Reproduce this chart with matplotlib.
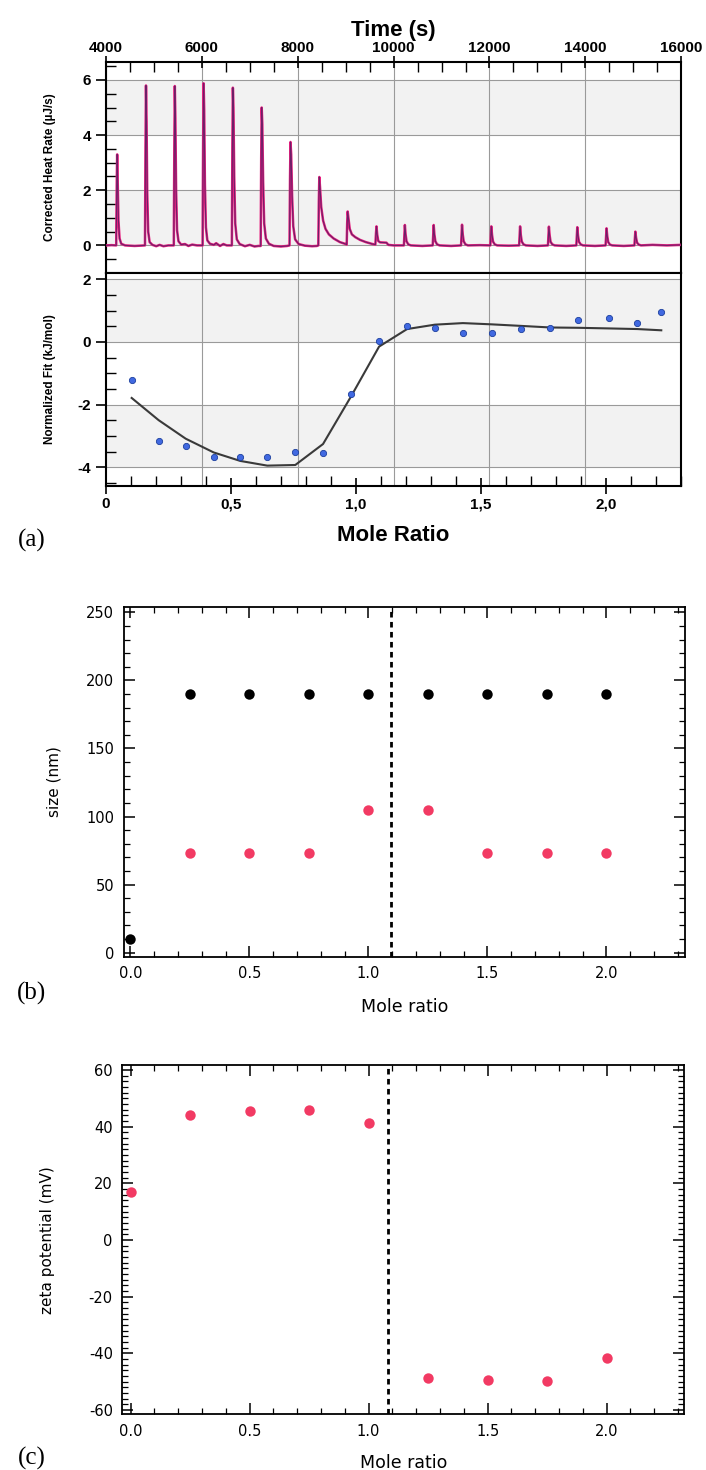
import matplotlib
matplotlib.use("Agg")
import matplotlib.pyplot as plt
import matplotlib.transforms as mtransforms
from matplotlib.ticker import MultipleLocator

plt.rcParams['axes.unicode_minus'] = False

# ---- (a) raw heat rate trace (time in s, heat rate in uJ/s) ----
heat_time = [
    4000, 4120, 4215, 4227, 4235, 4247, 4262, 4285, 4320, 4400, 4600, 4780,
    4815, 4826, 4836, 4848, 4862, 4882, 4912, 4970, 5050, 5120, 5200, 5300,
    5416, 5427, 5437, 5449, 5464, 5484, 5514, 5570, 5650, 5720, 5800, 5900,
    6017, 6028, 6038, 6050, 6065, 6086, 6116, 6170, 6250, 6300, 6380, 6450, 6520,
    6627, 6638, 6648, 6660, 6676, 6697, 6730, 6790, 6900, 7000, 7100, 7180,
    7228, 7239, 7249, 7262, 7279, 7301, 7336, 7400, 7500, 7650, 7780,
    7829, 7840, 7850, 7864, 7883, 7907, 7946, 8020, 8150, 8300, 8400,
    8430, 8441, 8451, 8466, 8490, 8530, 8580, 8650, 8750, 8880, 9000,
    9022, 9032, 9042, 9058, 9085, 9130, 9200, 9300, 9420, 9560, 9620,
    9633, 9643, 9658, 9680, 9720, 9850, 9890, 10000, 10100,
    10215, 10225, 10235, 10250, 10270, 10305, 10360, 10600,
    10816, 10826, 10836, 10851, 10871, 10906, 10960, 11200,
    11407, 11417, 11427, 11442, 11462, 11497, 11550, 11800,
    12018, 12028, 12038, 12053, 12073, 12108, 12160, 12400,
    12618, 12628, 12638, 12653, 12673, 12708, 12760, 13000,
    13219, 13229, 13239, 13254, 13274, 13309, 13360, 13600,
    13811, 13821, 13831, 13846, 13866, 13901, 13950, 14200,
    14421, 14431, 14441, 14456, 14476, 14511, 14560, 14800,
    15022, 15032, 15042, 15057, 15077, 15112, 15160, 15400, 15700, 16000,
]
heat_rate = [
    0.0, 0.01, 0.0, 2.4, 3.3, 2.3, 0.9, 0.25, 0.06, 0.0, -0.02, 0.0,
    0.0, 3.6, 5.8, 4.5, 1.9, 0.5, 0.12, 0.02, -0.03, 0.02, -0.03, 0.0,
    0.0, 3.5, 5.78, 4.6, 2.0, 0.55, 0.15, 0.03, 0.05, -0.02, 0.03, 0.0,
    0.0, 3.7, 5.88, 4.9, 2.2, 0.65, 0.18, 0.06, 0.02, 0.08, -0.02, 0.05, 0.0,
    0.0, 3.6, 5.72, 5.0, 2.5, 0.8, 0.22, 0.05, -0.03, 0.02, -0.04, -0.02,
    -0.02, 3.2, 5.0, 4.4, 2.3, 0.8, 0.25, 0.06, -0.02, -0.04, -0.02,
    0.0, 2.4, 3.75, 3.3, 1.8, 0.7, 0.22, 0.05, -0.01, -0.03, -0.02,
    0.0, 1.6, 2.48, 2.1, 1.4, 0.9, 0.6, 0.4, 0.25, 0.12, 0.05,
    0.03, 0.8, 1.23, 1.0, 0.6, 0.4, 0.3, 0.2, 0.12, 0.05, 0.03,
    0.45, 0.69, 0.4, 0.16, 0.11, 0.1, 0.02, 0.0, 0.0,
    0.0, 0.35, 0.74, 0.4, 0.15, 0.04, 0.0, -0.02,
    0.0, 0.35, 0.74, 0.4, 0.15, 0.04, 0.0, -0.02,
    0.0, 0.35, 0.75, 0.4, 0.15, 0.04, 0.0, 0.01,
    0.0, 0.33, 0.69, 0.38, 0.14, 0.04, 0.0, -0.01,
    0.0, 0.33, 0.69, 0.38, 0.14, 0.04, 0.0, -0.02,
    0.0, 0.32, 0.68, 0.37, 0.13, 0.04, 0.0, -0.02,
    0.0, 0.31, 0.66, 0.36, 0.13, 0.04, 0.0, -0.02,
    0.0, 0.30, 0.62, 0.34, 0.12, 0.03, 0.0, -0.02,
    0.0, 0.24, 0.50, 0.28, 0.10, 0.03, 0.0, 0.02, 0.0, 0.02,
]
time_ticks = [4000, 6000, 8000, 10000, 12000, 14000, 16000]
heat_yticks = [0, 2, 4, 6]

# ---- (a) integrated heats and fit ----
itc_ratio = [0.103, 0.211, 0.319, 0.431, 0.537, 0.645, 0.757, 0.868, 0.980, 1.092,
             1.204, 1.315, 1.427, 1.542, 1.661, 1.777, 1.888, 2.011, 2.124, 2.22]
itc_heat = [-1.23, -3.15, -3.33, -3.69, -3.69, -3.66, -3.51, -3.54, -1.66, 0.02,
            0.52, 0.44, 0.28, 0.28, 0.41, 0.44, 0.70, 0.77, 0.59, 0.94]
fit_heat = [-1.79, -2.50, -3.09, -3.53, -3.80, -3.95, -3.93, -3.26, -1.74, -0.15,
            0.41, 0.55, 0.60, 0.56, 0.51, 0.46, 0.45, 0.43, 0.41, 0.37]
fit_yticks = [-4, -2, 0, 2]
ratio_ticks_a = [0, 0.5, 1.0, 1.5, 2.0]
ratio_labels_a = ['0', '0,5', '1,0', '1,5', '2,0']

# ---- (b) particle size ----
size_ratio_black = [0.0, 0.25, 0.5, 0.75, 1.0, 1.25, 1.5, 1.75, 2.0]
size_black = [10, 190, 190, 190, 190, 190, 190, 190, 190]
size_ratio_pink = [0.25, 0.5, 0.75, 1.0, 1.25, 1.5, 1.75, 2.0]
size_pink = [73, 73, 73, 105, 105, 73, 73, 73]
eq_ratio_b = 1.095

# ---- (c) zeta potential ----
zeta_ratio = [0.0, 0.25, 0.5, 0.75, 1.0, 1.25, 1.5, 1.75, 2.0]
zeta_mv = [17.0, 44.3, 45.4, 45.9, 41.5, -48.6, -49.3, -49.6, -41.6]
eq_ratio_c = 1.08

ratio_ticks = [0.0, 0.5, 1.0, 1.5, 2.0]
ratio_labels = ['0.0', '0.5', '1.0', '1.5', '2.0']

PINK = '#f23a63'
BAND = '#f2f2f2'
GRID = '#9a9a9a'

fig = plt.figure(figsize=(7.06, 14.7), dpi=100)
ax_t = fig.add_axes([0.150, 0.8143, 0.815, 0.1435])
ax_f = fig.add_axes([0.150, 0.6694, 0.815, 0.1449])
ax_b = fig.add_axes([0.1756, 0.3492, 0.7946, 0.2379])
ax_c = fig.add_axes([0.1735, 0.0379, 0.7953, 0.2376])

bold_a = dict(family='Liberation Sans', weight='bold')

# --- top panel of (a)
for i in range(0, len(heat_yticks) - 1, 2):
    ax_t.axhspan(heat_yticks[i], heat_yticks[i + 1], color=BAND, zorder=0, lw=0)
ax_t.plot(heat_time, heat_rate, color='#e8207f', lw=1.8, zorder=3)
ax_t.plot(heat_time, heat_rate, color='#6e1f68', lw=0.8, zorder=4)
ax_t.set_xlim(4000, 16000)
ax_t.set_ylim(-1.0, 6.65)
ax_t.xaxis.tick_top()
ax_t.xaxis.set_label_position('top')
ax_t.set_xticks(time_ticks)
ax_t.xaxis.set_minor_locator(MultipleLocator(500))
ax_t.set_yticks(heat_yticks)
ax_t.yaxis.set_minor_locator(MultipleLocator(0.5))
ax_t.grid(True, which='major', color=GRID, lw=0.8, zorder=1)
ax_t.set_axisbelow(True)
ax_t.tick_params(axis='x', which='major', direction='inout', length=8, width=1.2, pad=1)
ax_t.tick_params(axis='x', which='minor', direction='in', length=7, width=1.0)
ax_t.tick_params(axis='y', which='major', direction='out', length=7, width=1.2)
ax_t.tick_params(axis='y', which='minor', direction='in', length=7, width=1.0)
ax_t.set_xlabel('Time (s)', fontsize=16, labelpad=4, **bold_a)
ax_t.set_ylabel('Corrected Heat Rate (µJ/s)', fontsize=8.5, **bold_a)
ax_t.yaxis.set_label_coords(-0.087, 0.5)

# --- bottom panel of (a)
for i in range(0, len(fit_yticks) - 1, 2):
    ax_f.axhspan(fit_yticks[i], fit_yticks[i + 1], color=BAND, zorder=0, lw=0)
trans = mtransforms.blended_transform_factory(ax_t.transData, ax_f.transAxes)
for t in time_ticks[1:-1]:
    ax_f.plot([t, t], [0, 1], transform=trans, color=GRID, lw=0.8, zorder=1)
ax_f.plot(itc_ratio, fit_heat, color='#3a3a3a', lw=1.5, zorder=3)
ax_f.plot(itc_ratio, itc_heat, 'o', ms=4.5, mfc='#4169e1', mec='#1c3f9e', mew=0.6, zorder=4)
ax_f.set_xlim(0, 2.3)
ax_f.set_ylim(-4.6, 2.2)
ax_f.set_xticks(ratio_ticks_a)
ax_f.set_xticklabels(ratio_labels_a)
ax_f.xaxis.set_minor_locator(MultipleLocator(0.1))
ax_f.set_yticks(fit_yticks)
ax_f.yaxis.set_minor_locator(MultipleLocator(0.5))
ax_f.grid(True, axis='y', which='major', color=GRID, lw=0.8, zorder=1)
ax_f.set_axisbelow(True)
ax_f.tick_params(axis='x', which='major', direction='inout', length=12, width=1.2, pad=2)
ax_f.tick_params(axis='x', which='minor', direction='in', length=7, width=1.0)
ax_f.tick_params(axis='y', which='major', direction='out', length=7, width=1.2)
ax_f.tick_params(axis='y', which='minor', direction='in', length=7, width=1.0)
ax_f.set_xlabel('Mole Ratio', fontsize=16, labelpad=0, **bold_a)
ax_f.xaxis.set_label_coords(0.5, -0.183)
ax_f.set_ylabel('Normalized Fit (kJ/mol)', fontsize=8.5, **bold_a)
ax_f.yaxis.set_label_coords(-0.087, 0.5)

for ax in (ax_t, ax_f):
    for s in ax.spines.values():
        s.set_linewidth(1.5)
    for lab in ax.get_xticklabels() + ax.get_yticklabels():
        lab.set_fontfamily('Liberation Sans')
        lab.set_fontweight('bold')
        lab.set_fontsize(11)

# --- (b)
ax_b.axvline(eq_ratio_b, color='black', ls=(0, (2, 1.6)), lw=2, zorder=2)
ax_b.plot(size_ratio_black, size_black, 'o', color='black', ms=7.5, mec='none', zorder=3)
ax_b.plot(size_ratio_pink, size_pink, 'o', color=PINK, ms=7.5, mec='none', zorder=3)
ax_b.set_xlim(-0.027, 2.33)
ax_b.set_ylim(-3, 254)
ax_b.set_yticks(range(0, 251, 50))
ax_b.yaxis.set_minor_locator(MultipleLocator(10))
ax_b.set_ylabel('size (nm)', fontsize=11)
ax_b.yaxis.set_label_coords(-0.112, 0.5)
ax_b.set_xlabel('Mole ratio', fontsize=12.5)
ax_b.xaxis.set_label_coords(0.5, -0.117)

# --- (c)
ax_c.axvline(eq_ratio_c, color='black', ls=(0, (2, 1.6)), lw=2, zorder=2)
ax_c.plot(zeta_ratio, zeta_mv, 'o', color=PINK, ms=7.5, mec='none', zorder=3)
ax_c.set_xlim(-0.034, 2.325)
ax_c.set_ylim(-61.5, 61.8)
ax_c.set_yticks(range(-60, 61, 20))
ax_c.yaxis.set_minor_locator(MultipleLocator(2))
ax_c.set_ylabel('zeta potential (mV)', fontsize=11)
ax_c.yaxis.set_label_coords(-0.12, 0.5)
ax_c.set_xlabel('Mole ratio', fontsize=12.5)
ax_c.xaxis.set_label_coords(0.5, -0.114)

for ax in (ax_b, ax_c):
    ax.set_xticks(ratio_ticks)
    ax.set_xticklabels(ratio_labels)
    ax.xaxis.set_minor_locator(MultipleLocator(0.1))
    ax.tick_params(which='both', direction='in', top=True, right=True, labelsize=10.5)
    ax.tick_params(which='major', length=8, width=1.1, pad=7)
    ax.tick_params(which='minor', length=4, width=0.9)
    for s in ax.spines.values():
        s.set_linewidth(1.3)

for lab, yc in (('(a)', 540), ('(b)', 993), ('(c)', 1458)):
    fig.text(32 / 706, 1 - yc / 1470, lab, fontsize=18, family='Liberation Serif',
             ha='center', va='center')

fig.savefig('out.png', dpi=100)
